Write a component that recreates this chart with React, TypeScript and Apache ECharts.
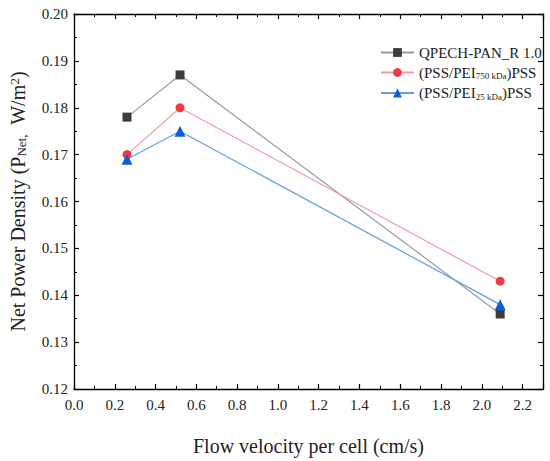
import React, { useEffect, useRef } from "react";
import * as echarts from "echarts";

const xValues = [0.26, 0.52, 2.09];
const qpech = [0.178, 0.187, 0.136];
const pei750 = [0.17, 0.18, 0.143];
const pei25 = [0.169, 0.175, 0.138];
const seriesNames = ["QPECH-PAN_R 1.0", "(PSS/PEI750kDa)PSS", "(PSS/PEI25kDa)PSS"];

const FONT = "'Liberation Serif', 'DejaVu Serif', serif";

export default function App() {
  const ref = useRef<HTMLDivElement>(null);
  useEffect(() => {
    const chart = echarts.init(ref.current!, undefined, { renderer: "svg" });
    const axisCommon = {
      axisLine: { show: true, onZero: false, lineStyle: { color: "#000", width: 1.3 } },
      axisTick: { show: true, inside: true, length: 5, lineStyle: { color: "#000", width: 1.2 } },
      minorTick: { show: true, splitNumber: 2, length: 3, lineStyle: { color: "#000", width: 1 } },
      splitLine: { show: false },
    };
    const pair = (a: number[]) => xValues.map((x, i) => [x, a[i]]);
    const legendFmt = (name: string) => {
      if (name === seriesNames[1]) return "{a|(PSS/PEI}{s|750 kDa}{a|)PSS}";
      if (name === seriesNames[2]) return "{a|(PSS/PEI}{s|25 kDa}{a|)PSS}";
      return "{a|" + name + "}";
    };
    chart.setOption({
      animation: false,
      backgroundColor: "#fff",
      grid: { left: 74, top: 14, right: 7, bottom: 72, containLabel: false, outerBoundsMode: "none" },
      legend: {
        orient: "vertical",
        left: 375,
        top: 40,
        itemGap: 5,
        itemWidth: 33,
        itemHeight: 11,
        formatter: legendFmt,
        textStyle: {
          fontFamily: FONT,
          fontSize: 15,
          color: "#222",
          rich: {
            a: { fontFamily: FONT, fontSize: 15, lineHeight: 16, color: "#222" },
            s: { fontFamily: FONT, fontSize: 9, lineHeight: 9, verticalAlign: "bottom", color: "#222" },
          },
        },
        data: seriesNames,
      },
      xAxis: [
        {
          type: "value",
          min: 0,
          max: 2.3,
          interval: 0.2,
          position: "bottom",
          ...axisCommon,
          axisLabel: {
            fontFamily: FONT,
            fontSize: 15,
            color: "#222",
            margin: 8,
            formatter: (v: number) => (v > 2.25 ? "" : v.toFixed(1)),
          },
          name: "Flow velocity per cell (cm/s)",
          nameLocation: "middle",
          nameGap: 47,
          nameTextStyle: { fontFamily: FONT, fontSize: 20, color: "#222" },
        },
        {
          type: "value",
          min: 0,
          max: 2.3,
          interval: 0.2,
          position: "top",
          ...axisCommon,
          axisLabel: { show: false },
        },
      ],
      yAxis: [
        {
          type: "value",
          min: 0.12,
          max: 0.2,
          interval: 0.01,
          position: "left",
          ...axisCommon,
          axisLabel: {
            fontFamily: FONT,
            fontSize: 15,
            color: "#222",
            margin: 6,
            formatter: (v: number) => v.toFixed(2),
          },
          name: "{n|Net Power Density (P}{s|Net,}{n|  W/m}{p|2}{n|)}",
          nameLocation: "middle",
          nameGap: 46,
          nameTextStyle: {
            fontFamily: FONT,
            fontSize: 20,
            color: "#222",
            rich: {
              n: { fontFamily: FONT, fontSize: 20, lineHeight: 20, color: "#222" },
              s: { fontFamily: FONT, fontSize: 13, lineHeight: 13, verticalAlign: "bottom", color: "#222" },
              p: { fontFamily: FONT, fontSize: 13, lineHeight: 13, verticalAlign: "top", color: "#222" },
            },
          },
        },
        {
          type: "value",
          min: 0.12,
          max: 0.2,
          interval: 0.01,
          position: "right",
          ...axisCommon,
          axisLabel: { show: false },
        },
      ],
      series: [
        {
          name: seriesNames[0],
          type: "line",
          data: pair(qpech),
          symbol: "rect",
          symbolSize: 9,
          itemStyle: { color: "#3c3c3c" },
          lineStyle: { color: "#9a9a9a", width: 1.2 },
        },
        {
          name: seriesNames[1],
          type: "line",
          data: pair(pei750),
          symbol: "circle",
          symbolSize: 9,
          itemStyle: { color: "#f23a44" },
          lineStyle: { color: "#f29a9e", width: 1.2 },
        },
        {
          name: seriesNames[2],
          type: "line",
          data: pair(pei25),
          symbol: "triangle",
          symbolSize: 11,
          itemStyle: { color: "#0b5fd6" },
          lineStyle: { color: "#5d9fe0", width: 1.2 },
        },
      ],
    });
    return () => chart.dispose();
  }, []);
  return <div ref={ref} style={{ width: 550, height: 461, position: "absolute", left: 0, top: 0 }} />;
}
